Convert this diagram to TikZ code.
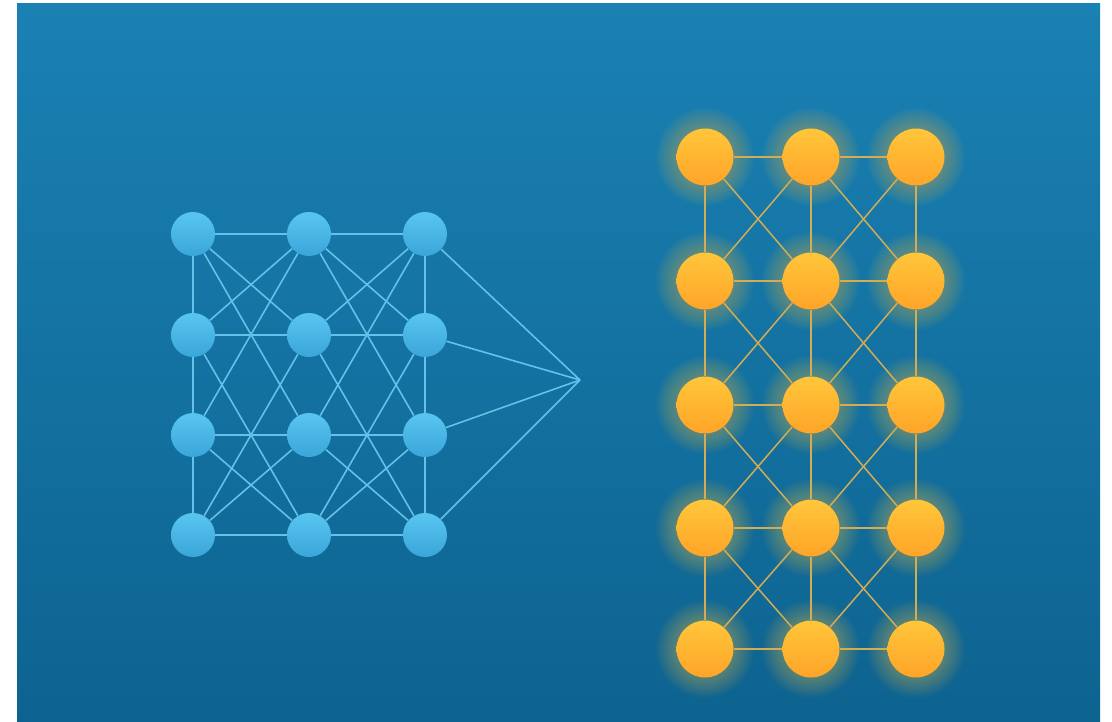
\documentclass[tikz,border=0pt]{standalone}
\usetikzlibrary{calc}
\definecolor{bgtop}{RGB}{26,129,179}
\definecolor{bgbot}{RGB}{13,99,144}
\definecolor{bnodetop}{RGB}{88,197,241}
\definecolor{bnodebot}{RGB}{58,166,217}
\definecolor{blinec}{RGB}{100,194,234}
\definecolor{onodetop}{RGB}{255,198,58}
\definecolor{onodebot}{RGB}{255,164,40}
\definecolor{olinec}{RGB}{212,172,84}
\definecolor{glowc}{RGB}{255,200,70}
\tikzset{
  bnode/.style={circle, inner sep=0pt, minimum size=0.88cm, top color=bnodetop, bottom color=bnodebot, draw=none},
  onode/.style={circle, inner sep=0pt, minimum size=1.14cm, top color=onodetop, bottom color=onodebot, draw=none},
  bline/.style={draw=blinec, line width=0.9pt},
  oline/.style={draw=olinec, line width=0.85pt},
}
\begin{document}
\begin{tikzpicture}[x=0.02cm,y=-0.02cm]
% canvas and background
\fill[white] (0,0) rectangle (1112,721);
\shade[top color=bgtop, bottom color=bgbot] (17,3) rectangle (1100,721);
% ---------- left network ----------
\foreach \c/\x in {0/193,1/309,2/425}{
  \foreach \r/\y in {0/234,1/335,2/435,3/535}{
    \node[bnode] (L\c\r) at (\x,\y) {};
  }
}
\coordinate (P) at (580,380);
% horizontals
\foreach \r in {0,1,2,3}{
  \draw[bline] (L0\r) -- (L1\r);
  \draw[bline] (L1\r) -- (L2\r);
}
% verticals (outer columns)
\foreach \r in {0,1,2}{
  \pgfmathtruncatemacro{\s}{\r+1}
  \draw[bline] (L0\r) -- (L0\s);
  \draw[bline] (L2\r) -- (L2\s);
}
% shallow diagonals
\foreach \r in {0,2}{
  \pgfmathtruncatemacro{\s}{\r+1}
  \draw[bline] (L0\r) -- (L1\s);
  \draw[bline] (L1\r) -- (L0\s);
  \draw[bline] (L1\r) -- (L2\s);
  \draw[bline] (L2\r) -- (L1\s);
}
% steep diagonals
\foreach \r in {0,1}{
  \pgfmathtruncatemacro{\s}{\r+2}
  \draw[bline] (L0\r) -- (L1\s);
  \draw[bline] (L1\r) -- (L0\s);
  \draw[bline] (L1\r) -- (L2\s);
  \draw[bline] (L2\r) -- (L1\s);
}
% converging lines
\foreach \r in {0,1,2,3}{
  \draw[bline] (L2\r) -- (P);
}
% ---------- right network ----------
% soft glow
\foreach \x in {705,811,916}{
  \foreach \y in {157,281,405,528,649}{
    \foreach \k in {1,...,14}{
      \fill[glowc, opacity=0.028] (\x,\y) circle ({28+1.5*\k});
    }
  }
}
\foreach \c/\x in {0/705,1/811,2/916}{
  \foreach \r/\y in {0/157,1/281,2/405,3/528,4/649}{
    \node[onode] (R\c\r) at (\x,\y) {};
  }
}
\foreach \r in {0,1,2,3,4}{
  \draw[oline] (R0\r) -- (R1\r);
  \draw[oline] (R1\r) -- (R2\r);
}
\foreach \r in {0,1,2,3}{
  \pgfmathtruncatemacro{\s}{\r+1}
  \foreach \c in {0,1,2}{
    \draw[oline] (R\c\r) -- (R\c\s);
  }
  \foreach \c in {0,1}{
    \pgfmathtruncatemacro{\d}{\c+1}
    \draw[oline] (R\c\r) -- (R\d\s);
    \draw[oline] (R\d\r) -- (R\c\s);
  }
}
\end{tikzpicture}
\end{document}
